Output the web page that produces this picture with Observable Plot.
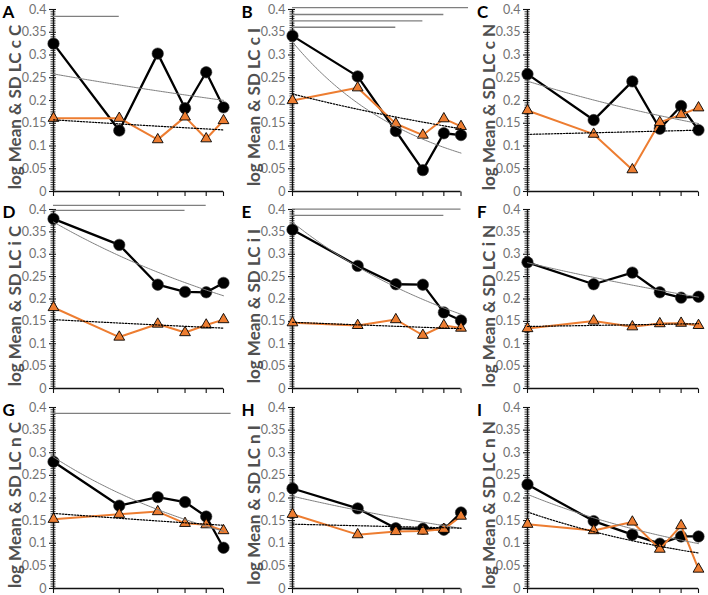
<!DOCTYPE html>
<html>
<head>
<meta charset="utf-8">
<script src="https://cdn.jsdelivr.net/npm/d3@7"></script>
<script src="https://cdn.jsdelivr.net/npm/@observablehq/plot@0.6"></script>
<style>
  body { margin: 0; background: #fff; }
  #wrap { position: relative; width: 708px; height: 595px; overflow: hidden; background: #fff; }
  #wrap svg { position: absolute; overflow: visible; }
  .ylab { position: absolute; white-space: nowrap; font-family: Lato, 'Open Sans', sans-serif; font-weight: bold; color: #505050; transform: translate(-50%, -50%) rotate(-90deg); line-height: 1; }
  .letter { position: absolute; font-family: Lato, 'Open Sans', sans-serif; font-weight: bold; color: #000; font-size: 17px; line-height: 1; }
</style>
</head>
<body>
<div id="wrap"></div>
<script>
// x categories (log-spaced positions 1..6)
const xs = [1, 2, 3, 4, 5, 6];
const letters = ["A", "B", "C", "D", "E", "F", "G", "H", "I"];
const yLabels = [
  "log Mean & SD LC c C", "log Mean & SD LC c I", "log Mean & SD LC c N",
  "log Mean & SD LC i C", "log Mean & SD LC i I", "log Mean & SD LC i N",
  "log Mean & SD LC n C", "log Mean & SD LC n I", "log Mean & SD LC n N"
];
const yTicks = [0, 0.05, 0.1, 0.15, 0.2, 0.25, 0.3, 0.35, 0.4];

// black circles (mean) and orange triangles (SD)
const meanA = [0.325, 0.134, 0.303, 0.183, 0.262, 0.185];
const sdA   = [0.161, 0.161, 0.114, 0.164, 0.116, 0.156];
const meanB = [0.342, 0.253, 0.133, 0.047, 0.128, 0.124];
const sdB   = [0.200, 0.228, 0.149, 0.124, 0.160, 0.143];
const meanC = [0.258, 0.157, 0.242, 0.138, 0.188, 0.135];
const sdC   = [0.178, 0.126, 0.048, 0.152, 0.169, 0.184];
const meanD = [0.379, 0.321, 0.232, 0.216, 0.215, 0.236];
const sdD   = [0.181, 0.115, 0.144, 0.125, 0.142, 0.154];
const meanE = [0.355, 0.274, 0.233, 0.232, 0.170, 0.152];
const sdE   = [0.147, 0.141, 0.154, 0.119, 0.141, 0.135];
const meanF = [0.282, 0.233, 0.259, 0.215, 0.203, 0.205];
const sdF   = [0.134, 0.151, 0.138, 0.145, 0.146, 0.141];
const meanG = [0.280, 0.183, 0.202, 0.191, 0.159, 0.090];
const sdG   = [0.153, 0.164, 0.170, 0.144, 0.141, 0.128];
const meanH = [0.221, 0.177, 0.133, 0.132, 0.130, 0.168];
const sdH   = [0.164, 0.119, 0.126, 0.127, 0.131, 0.160];
const meanI = [0.230, 0.149, 0.119, 0.099, 0.115, 0.115];
const sdI   = [0.142, 0.128, 0.147, 0.087, 0.139, 0.043];

// significance bars: [y level, end x] (all start at x = 1)
const sigA = [[0.385, 2]];
const sigB = [[0.404, 6.5], [0.389, 5], [0.375, 4], [0.361, 3]];
const sigC = [];
const sigD = [[0.409, 5], [0.398, 4]];
const sigE = [[0.401, 6], [0.387, 5]];
const sigF = [];
const sigG = [[0.387, 6.5]];
const sigH = [];
const sigI = [];

const means = [meanA, meanB, meanC, meanD, meanE, meanF, meanG, meanH, meanI];
const sds = [sdA, sdB, sdC, sdD, sdE, sdF, sdG, sdH, sdI];
const sigs = [sigA, sigB, sigC, sigD, sigE, sigF, sigG, sigH, sigI];

// layout (pixel positions of x=1 / x=6 per column, y=0.4 / y=0 per row)
const colX = [[52.5, 222.5], [291.5, 460], [527, 698]];
const rowY = [[9, 191], [209, 388], [407, 588]];
const ML = 55, MR = 14, MT = 9, MB = 8;

// power-law trendline (least squares in log-log), like a spreadsheet "power" trend
function powerFit(ys) {
  const lx = xs.map(Math.log), ly = ys.map(Math.log);
  const mx = d3.mean(lx), my = d3.mean(ly);
  const b = d3.sum(lx, (v, i) => (v - mx) * (ly[i] - my)) / d3.sum(lx, v => (v - mx) ** 2);
  const a = Math.exp(my - b * mx);
  return d3.range(0, 101).map(k => {
    const t = Math.exp(Math.log(6) * k / 100);
    return {x: t, y: a * Math.pow(t, b)};
  });
}

const majorTick = {draw(ctx) { ctx.moveTo(-4.5, 0); ctx.lineTo(2.5, 0); }};
const minorTick = {draw(ctx) { ctx.moveTo(-3, 0); ctx.lineTo(2, 0); }};
const xTick = {draw(ctx) { ctx.moveTo(0, 0); ctx.lineTo(0, 4.5); }};
const yMinor = d3.range(0, 81).map(k => k * 0.005).filter((v, k) => k % 10 !== 0);
const fmt = d => String(+d.toFixed(2));

// fit label font size so the rotated label spans about 172px
const mctx = document.createElement("canvas").getContext("2d");
function labelSize(txt) {
  mctx.font = "bold 15px Lato, 'Open Sans', sans-serif";
  const w = mctx.measureText(txt).width || 150;
  return Math.max(11, Math.min(17, 15 * 172 / w));
}

const wrap = document.getElementById("wrap");
for (let p = 0; p < 9; p++) {
  const col = p % 3, row = Math.floor(p / 3);
  const [x1, x6] = colX[col];
  const [yTop, yBot] = rowY[row];
  const width = ML + (x6 - x1) + MR;
  const height = MT + (yBot - yTop) + MB;
  const rows = xs.map((x, i) => ({x, mean: means[p][i], sd: sds[p][i]}));
  const sigRows = sigs[p].map(([y, x2]) => ({y, x2}));

  const chart = Plot.plot({
    width, height,
    marginLeft: ML, marginRight: MR, marginTop: MT, marginBottom: MB,
    style: {fontFamily: "Lato, 'Open Sans', sans-serif", overflow: "visible", background: "transparent"},
    x: {type: "log", domain: [1, 6], axis: null},
    y: {domain: [0, 0.4], axis: null},
    marks: [
      // axes
      Plot.dot(yMinor, {y: d => d, frameAnchor: "left", symbol: minorTick, stroke: "#222", fill: "none", strokeWidth: 0.9}),
      Plot.dot(yTicks, {y: d => d, frameAnchor: "left", symbol: majorTick, stroke: "#111", fill: "none", strokeWidth: 1.1}),
      Plot.text(yTicks, {y: d => d, frameAnchor: "left", text: fmt, textAnchor: "end", dx: -7, fill: "#737373", fontSize: 12.5}),
      Plot.dot(xs, {x: d => d, y: 0, symbol: xTick, stroke: "#111", fill: "none", strokeWidth: 1.1}),
      Plot.ruleX([1], {y1: 0, y2: 0.4, stroke: "#111", strokeWidth: 1.4}),
      Plot.ruleY([0], {x1: 1, x2: 6, stroke: "#111", strokeWidth: 1.4}),
      // significance bars
      Plot.ruleY(sigRows, {y: "y", x1: 1, x2: "x2", stroke: "#7f7f7f", strokeWidth: 1.3}),
      // series
      Plot.line(rows, {x: "x", y: "mean", stroke: "black", strokeWidth: 2.3}),
      Plot.dot(rows, {x: "x", y: "mean", r: 5.7, fill: "black", stroke: "#333", strokeWidth: 0.6}),
      Plot.line(rows, {x: "x", y: "sd", stroke: "#ED7D31", strokeWidth: 2}),
      Plot.dot(rows, {x: "x", y: "sd", symbol: "triangle", r: 4, fill: "#ED7D31", stroke: "black", strokeWidth: 0.9}),
      // trendlines
      Plot.line(powerFit(means[p]), {x: "x", y: "y", stroke: "#7f7f7f", strokeWidth: 1}),
      Plot.line(powerFit(sds[p]), {x: "x", y: "y", stroke: "black", strokeWidth: 1.2, strokeDasharray: "1.5,1.5"})
    ]
  });
  chart.style.left = (x1 - ML) + "px";
  chart.style.top = (yTop - MT) + "px";
  wrap.appendChild(chart);

  // rotated y-axis label
  const lab = document.createElement("div");
  lab.className = "ylab";
  lab.textContent = yLabels[p];
  lab.style.fontSize = labelSize(yLabels[p]).toFixed(1) + "px";
  lab.style.left = (x1 - 39) + "px";
  lab.style.top = ((yTop + yBot) / 2 + 7) + "px";
  wrap.appendChild(lab);

  // panel letter
  const let_ = document.createElement("div");
  let_.className = "letter";
  let_.textContent = letters[p];
  let_.style.left = (x1 - 50) + "px";
  let_.style.top = (yTop - 6) + "px";
  wrap.appendChild(let_);
}
</script>
</body>
</html>
